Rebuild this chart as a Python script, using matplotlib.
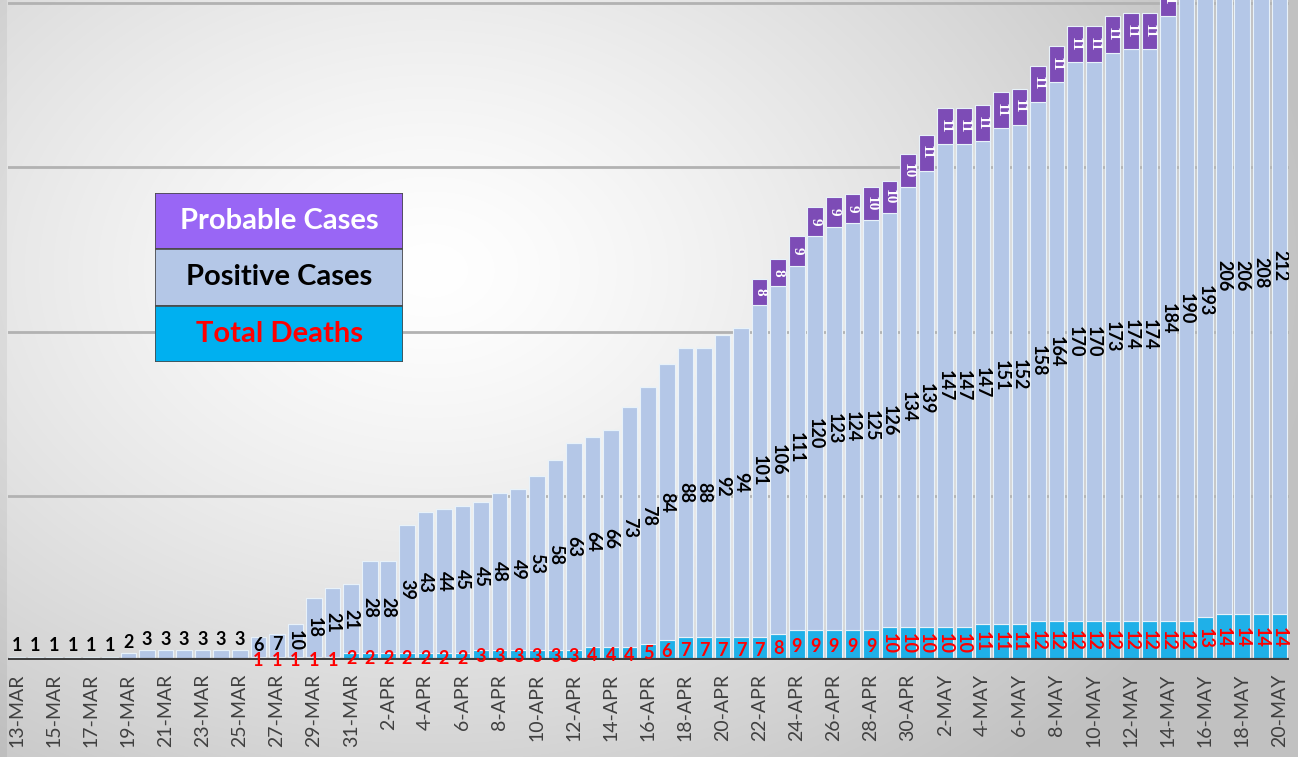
import numpy as np
import matplotlib.pyplot as plt
from matplotlib.patches import Rectangle

# ---------------------------------------------------------------------------
# data
# ---------------------------------------------------------------------------
dates = ([f"{d}-MAR" for d in range(13, 32)] +
         [f"{d}-APR" for d in range(1, 31)] +
         [f"{d}-MAY" for d in range(1, 21)])

deaths = ([0] * 13 + [1, 1, 1, 1, 1, 2] +
          [2, 2, 2, 2, 2, 2, 3, 3, 3, 3, 3, 3, 4, 4, 4, 5, 6, 7, 7, 7, 7, 7,
           8, 9, 9, 9, 9, 9, 10, 10] +
          [10, 10, 10, 11, 11, 11, 12, 12, 12, 12, 12, 12, 12, 12, 12, 13,
           14, 14, 14, 14])

positive = ([1, 1, 1, 1, 1, 1, 2, 3, 3, 3, 3, 3, 3, 6, 7, 10, 18, 21, 21] +
            [28, 28, 39, 43, 44, 45, 45, 48, 49, 53, 58, 63, 64, 66, 73, 78,
             84, 88, 88, 92, 94, 101, 106, 111, 120, 123, 124, 125, 126, 134] +
            [139, 147, 147, 147, 151, 152, 158, 164, 170, 170, 173, 174, 174,
             184, 190, 193, 206, 206, 208, 212])

probable = ([0] * 19 +
            [0] * 21 + [8, 8, 9, 9, 9, 9, 10, 10, 10] +
            [11] * 20)

legend_labels = ["Probable Cases", "Positive Cases", "Total Deaths"]

# ---------------------------------------------------------------------------
# colours / fonts
# ---------------------------------------------------------------------------
c_pos = "#B4C7E7"
c_death = "#1FB0E8"
c_prob = "#7D4CB6"
plt.rcParams["font.family"] = ["Lato", "DejaVu Sans"]

W, H = 1298, 757
fig = plt.figure(figsize=(W / 100, H / 100), dpi=100)

# background gradient
ax_bg = fig.add_axes([0, 0, 1, 1], zorder=-10)
yy, xx = np.mgrid[0:H, 0:W]
t = np.sqrt(((xx - 430) / 900.0) ** 2 + ((yy - 270) / 650.0) ** 2)
shade = 255 - 62 * np.clip(t, 0, 1) ** 1.3
shade[:, :7] -= 12
img = np.dstack([shade, shade, shade]) / 255.0
ax_bg.imshow(img, aspect="auto", extent=[0, 1, 0, 1])
ax_bg.axis("off")

# main axes
x = np.arange(len(dates))
ax = fig.add_axes([7.7 / W, 97 / H, 1281 / W, 660 / H])
ax.set_facecolor("none")

d = np.array(deaths)
p = np.array(positive)
pr = np.array(probable)

for g in [50, 100, 150, 200]:
    ax.axhline(g, color="#b2b2b2", lw=2, zorder=0)

bw = 0.84
ax.bar(x, d, width=bw, color=c_death, edgecolor="#e8f2fa", lw=0.8, zorder=2)
ax.bar(x, p, bottom=d, width=bw, color=c_pos, edgecolor="#e8f2fa", lw=0.8, zorder=2)
ax.bar(x, pr, bottom=d + p, width=bw, color=c_prob, edgecolor="#e8f2fa", lw=0.8, zorder=2)

ax.axhline(0, color="#3f3f3f", lw=3, zorder=4)

# data labels
for i in x:
    # positive cases
    if p[i] < 10:
        if p[i] < 5:
            ax.text(i, d[i] + p[i] + 0.8, str(p[i]), ha="center", va="bottom",
                    fontsize=13, fontweight="bold", color="black", zorder=5)
        else:
            ax.text(i, d[i] + p[i] / 2 + 0.3, str(p[i]), ha="center", va="center",
                    fontsize=13, fontweight="bold", color="black", zorder=5)
    else:
        ax.text(i, d[i] + p[i] / 2, str(p[i]), ha="center", va="center",
                rotation=270, fontsize=13, fontweight="bold", color="black",
                zorder=5, clip_on=True)
    # deaths
    if d[i] > 0:
        if d[i] < 10:
            ax.text(i, d[i] / 2 - 0.5, str(d[i]), ha="center", va="center",
                    fontsize=13, fontweight="bold", color="#FF0000", zorder=5)
        else:
            ax.text(i, d[i] / 2, str(d[i]), ha="center", va="center",
                    rotation=270, fontsize=13, fontweight="bold",
                    color="#FF0000", zorder=5)
    # probable
    if pr[i] > 0:
        ax.text(i, d[i] + p[i] + pr[i] / 2, str(pr[i]), ha="center",
                va="center", rotation=270, fontsize=11, fontweight="bold",
                family="Liberation Serif", color="white", zorder=5,
                clip_on=True)

ax.set_xlim(-0.5, len(dates) - 0.5)
ax.set_ylim(0, 201)
ax.set_yticks([])
ax.set_xticks(x[::2])
ax.set_xticklabels(dates[::2], rotation=90, fontsize=14, color="#404040")
ax.tick_params(axis="x", length=0, pad=10)
for s in ax.spines.values():
    s.set_visible(False)

# legend boxes
axl = fig.add_axes([155 / W, (H - 362) / H, 248 / W, 169 / H], zorder=10)
axl.set_xlim(0, 1)
axl.set_ylim(0, 3)
axl.axis("off")
box_cols = ["#9966F5", c_pos, "#00B0F0"]
txt_cols = ["white", "black", "#FF0000"]
for k in range(3):
    yb = 2 - k
    axl.add_patch(Rectangle((0, yb), 1, 1, facecolor=box_cols[k],
                            edgecolor="#4a4a4a", lw=1.2))
    axl.text(0.5, yb + 0.5, legend_labels[k], ha="center", va="center",
             fontsize=21, fontweight="bold", color=txt_cols[k])

fig.savefig("out.png", dpi=100)
